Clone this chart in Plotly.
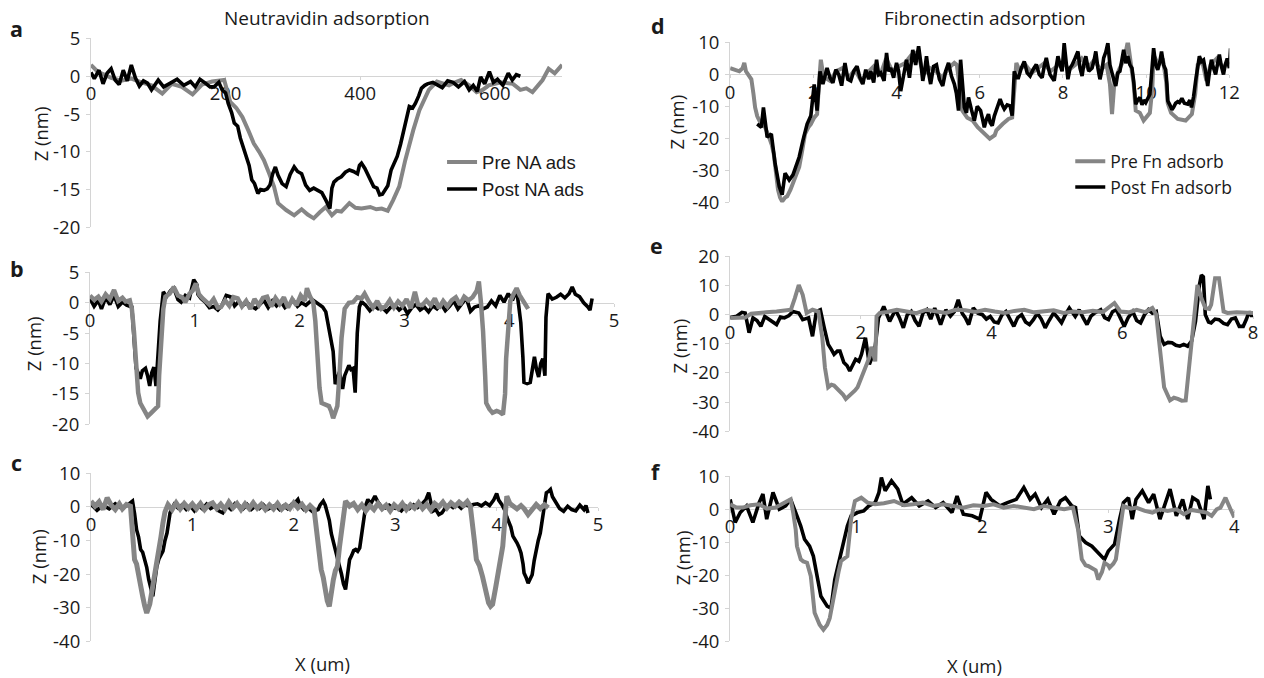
import plotly.graph_objects as go

# ---- profile data: (x, z) pairs, z in nm ----
# a: Neutravidin, single trench, x in nm
a_pre = [(0,1.5),(10,0.6),(18,0.3),(30,-0.2),(45,-0.6),(60,-0.3),(75,-0.8),(90,-1.2),(106,-2.3),(120,-1.0),
         (135,-1.4),(151,-2.4),(165,-1.1),(180,-0.7),(198,-0.5),(207,-3.4),(216,-4.2),(225,-5.4),(234,-7.2),
         (242,-8.9),(250,-10.0),(257,-11.1),(265,-12.9),(272,-14.6),(278,-16.8),(290,-17.7),(302,-18.4),
         (313,-17.6),(322,-18.3),(331,-18.8),(340,-18.0),(349,-17.3),(358,-18.4),(365,-17.8),(372,-17.9),
         (384,-16.8),(393,-17.4),(402,-17.5),(415,-17.3),(424,-17.6),(432,-17.5),(441,-17.8),(449,-16.4),
         (458,-14.6),(467,-11.1),(473,-9.0),(479,-7.1),(488,-4.5),(495,-3.0),(502,-1.8),(514,-0.7),(523,-1.0),
         (532,-1.2),(541,-0.8),(550,-0.5),(562,-1.2),(573,-2.1),(582,-1.8),(591,-1.2),(609,-0.8),(627,-1.0),
         (638,-1.8),(647,-1.6),(656,-2.1),(664,-1.2),(671,-0.5),(680,1.0),(689,0.4),(700,1.5)]
a_post = [(0,0.5),(5,-0.3),(12,0.8),(18,-1.0),(24,0.4),(30,1.0),(36,-0.5),(42,-1.1),(48,0.8),(54,-0.6),
          (60,1.5),(66,-0.2),(72,-1.3),(78,-0.6),(84,-0.9),(90,-1.8),(100,-0.5),(108,-1.4),(118,-0.9),
          (128,-0.4),(138,-1.2),(148,-0.7),(155,-1.4),(162,-0.4),(170,-0.9),(177,-1.4),(183,-1.4),(190,-0.8),
          (195,-1.8),(200,-2.2),(204,-3.6),(209,-4.8),(213,-6.2),(218,-6.6),(222,-8.2),(227,-9.5),(231,-10.6),
          (235,-11.8),(239,-13.7),(243,-14.2),(248,-15.5),(252,-15.0),(257,-15.1),(262,-14.9),(266,-14.4),
          (270,-12.9),(274,-12.0),(278,-13.1),(284,-14.2),(290,-14.6),(296,-13.0),(302,-12.0),(307,-12.6),
          (313,-12.9),(319,-14.4),(325,-15.1),(331,-14.8),(337,-15.1),(343,-15.4),(349,-16.4),(355,-17.5),
          (358,-14.8),(361,-14.0),(366,-13.6),(372,-13.3),(378,-12.7),(384,-12.4),(390,-12.6),(396,-12.9),
          (399,-11.8),(402,-11.5),(407,-12.2),(411,-12.9),(415,-13.7),(420,-14.6),(425,-14.8),(429,-15.7),
          (433,-15.6),(437,-15.1),(441,-14.5),(446,-12.4),(450,-11.5),(455,-10.6),(460,-9.0),(464,-7.6),
          (469,-5.6),(473,-4.0),(478,-4.2),(482,-3.6),(487,-2.6),(491,-1.6),(496,-1.2),(500,-1.0),(508,-0.8),
          (515,-1.2),(522,-1.5),(530,-0.6),(538,-0.8),(546,-1.4),(555,-0.7),(562,-1.8),(568,-1.2),(574,-2.0),
          (579,-0.1),(585,-1.0),(592,0.6),(598,-0.8),(604,-0.4),(612,-1.2),(620,0.4),(626,-0.5),(632,0.2),
          (638,0.0)]

# b: Neutravidin, three trenches, x in um
b_pre = [(0,1.2),(0.04,0.5),(0.08,1.0),(0.11,0.2),(0.15,1.4),(0.19,0.6),(0.23,2.1),(0.27,0.3),(0.31,0.8),
         (0.34,0.2),(0.38,0.4),(0.40,-1.0),(0.42,-4.7),(0.44,-10.5),(0.46,-14.8),(0.48,-16.5),(0.50,-17.2),
         (0.53,-18.0),(0.55,-18.7),(0.58,-18.2),(0.61,-17.6),(0.65,-17.0),(0.66,-12.0),(0.68,-4.7),(0.70,-1.0),
         (0.72,1.0),(0.76,1.5),(0.80,2.6),(0.84,1.2),(0.88,0.9),(0.91,0.1),(0.95,1.5),(0.98,2.0),(1.01,3.2),
         (1.04,1.4),(1.07,0.8),(1.10,0.4),(1.14,-0.3),(1.18,0.6),(1.22,-0.8),(1.25,-0.7),(1.29,0.4),(1.33,-0.5),
         (1.37,0.9),(1.41,0.7),(1.45,-0.6),(1.49,0.3),(1.53,-1.0),(1.57,0.6),(1.61,-0.4),(1.65,0.8),(1.69,1.0),
         (1.73,-0.6),(1.77,0.8),(1.81,-0.2),(1.85,0.9),(1.89,-0.8),(1.93,0.6),(1.97,-0.4),(2.01,1.2),(2.05,0.3),
         (2.07,2.4),(2.10,1.0),(2.13,0.1),(2.15,-3.0),(2.17,-9.2),(2.19,-14.0),(2.21,-16.5),(2.25,-16.8),
         (2.28,-17.0),(2.30,-17.8),(2.32,-19.0),(2.34,-18.0),(2.36,-17.0),(2.38,-12.0),(2.40,-5.8),(2.43,-1.0),
         (2.47,0.0),(2.51,0.1),(2.55,0.9),(2.59,0.7),(2.62,1.5),(2.66,0.2),(2.70,-0.8),(2.74,0.3),(2.78,-1.0),
         (2.82,-0.6),(2.86,0.4),(2.90,-0.8),(2.94,0.2),(2.98,-0.5),(3.02,0.6),(3.06,-0.9),(3.10,1.8),(3.13,-0.3),
         (3.17,-0.4),(3.21,0.4),(3.25,-0.4),(3.29,0.7),(3.33,-0.9),(3.37,0.3),(3.41,-0.6),(3.45,0.4),(3.49,0.9),
         (3.53,-0.3),(3.57,1.0),(3.61,0.4),(3.65,0.9),(3.69,2.0),(3.71,3.5),(3.73,0.0),(3.75,-4.7),(3.77,-12.0),
         (3.78,-16.5),(3.81,-17.5),(3.84,-18.1),(3.88,-17.8),(3.91,-18.0),(3.94,-18.4),(3.96,-15.0),(3.97,-9.2),
         (3.99,-3.0),(4.01,0.3),(4.04,1.4),(4.07,2.4),(4.10,1.2),(4.14,0.2),(4.18,-1.0)]
b_post = [(0,0.7),(0.04,-0.6),(0.08,0.4),(0.11,-1.0),(0.15,0.9),(0.19,-0.3),(0.23,1.2),(0.27,-0.6),(0.31,0.1),
          (0.35,-0.4),(0.40,-0.7),(0.42,-5.0),(0.44,-10.8),(0.46,-11.5),(0.48,-12.5),(0.50,-11.2),(0.53,-10.8),
          (0.55,-12.0),(0.57,-13.7),(0.59,-11.5),(0.61,-10.6),(0.63,-13.7),(0.65,-9.0),(0.67,-3.0),(0.70,1.8),
          (0.73,1.0),(0.77,2.0),(0.80,2.4),(0.84,0.5),(0.87,0.1),(0.91,1.2),(0.95,0.8),(0.99,3.8),(1.02,3.0),
          (1.03,1.4),(1.06,0.7),(1.10,0.1),(1.14,-0.8),(1.18,-0.6),(1.22,-1.2),(1.26,-0.4),(1.30,1.2),(1.34,1.0),
          (1.38,-0.5),(1.42,0.2),(1.46,-0.4),(1.50,0.0),(1.54,-0.6),(1.58,-1.0),(1.62,-0.3),(1.66,0.4),(1.70,-0.8),
          (1.74,0.3),(1.78,-0.5),(1.82,0.2),(1.86,-0.8),(1.90,-0.2),(1.94,0.4),(1.98,-0.6),(2.02,0.0),(2.06,-0.4),
          (2.10,0.2),(2.13,0.4),(2.18,-0.2),(2.22,-0.7),(2.25,-1.5),(2.28,-4.1),(2.30,-6.0),(2.32,-8.0),
          (2.34,-13.4),(2.36,-12.5),(2.38,-11.4),(2.40,-13.0),(2.41,-14.2),(2.43,-12.0),(2.45,-11.0),(2.47,-10.3),
          (2.49,-11.0),(2.51,-10.8),(2.53,-14.8),(2.55,-5.0),(2.57,-0.7),(2.59,0.2),(2.63,-0.4),(2.67,-1.3),
          (2.71,-0.5),(2.75,-1.0),(2.79,-0.8),(2.83,-1.5),(2.87,-0.7),(2.91,-0.4),(2.95,-1.2),(2.99,-0.6),
          (3.03,-1.8),(3.07,-0.8),(3.11,-0.3),(3.15,-1.2),(3.19,-0.7),(3.23,-1.5),(3.27,-0.5),(3.31,-1.0),
          (3.35,-0.2),(3.39,-1.3),(3.43,-0.6),(3.47,0.3),(3.51,-1.0),(3.55,-0.2),(3.59,0.8),(3.63,-1.4),
          (3.67,-0.7),(3.71,-0.5),(3.75,-1.0),(3.79,-0.7),(3.83,0.3),(3.87,-0.5),(3.91,1.2),(3.95,0.1),(3.99,1.5),
          (4.03,0.4),(4.07,2.1),(4.09,-0.5),(4.11,-3.3),(4.13,-9.0),(4.14,-13.1),(4.17,-13.3),(4.20,-13.1),
          (4.22,-11.0),(4.24,-8.9),(4.26,-11.0),(4.28,-12.2),(4.30,-10.0),(4.32,-9.2),(4.34,-12.0),(4.35,-2.4),
          (4.37,1.5),(4.41,0.6),(4.45,0.9),(4.49,1.4),(4.53,0.8),(4.57,1.5),(4.60,2.6),(4.63,1.4),(4.67,1.0),
          (4.71,0.0),(4.75,-0.7),(4.77,-1.2),(4.79,0.7)]

# c: Neutravidin, deeper trenches, x in um
c_pre = [(0,1.7),(0.04,0.2),(0.08,1.5),(0.12,-0.8),(0.16,2.7),(0.20,0.5),(0.24,-0.8),(0.28,0.9),(0.31,-0.6),
         (0.35,0.7),(0.39,0.2),(0.41,-6.0),(0.43,-15.7),(0.45,-17.0),(0.47,-20.7),(0.49,-23.0),(0.51,-26.6),
         (0.53,-29.5),(0.55,-31.6),(0.58,-29.0),(0.61,-23.7),(0.63,-20.0),(0.65,-17.7),(0.67,-14.0),(0.69,-9.0),
         (0.71,-4.8),(0.73,-1.5),(0.76,0.7),(0.80,-0.8),(0.84,1.2),(0.88,-0.6),(0.92,1.0),(0.96,-0.4),(1.00,0.9),
         (1.04,-0.6),(1.08,1.0),(1.12,-0.8),(1.16,0.6),(1.20,1.2),(1.24,-0.5),(1.28,0.8),(1.32,-0.7),(1.36,1.4),
         (1.40,-0.3),(1.44,1.0),(1.48,-0.8),(1.52,0.9),(1.56,-0.5),(1.60,1.2),(1.64,-0.4),(1.68,0.8),(1.72,-0.8),
         (1.76,0.6),(1.80,-0.6),(1.84,1.0),(1.88,-0.7),(1.92,0.5),(1.96,-0.5),(2.00,1.2),(2.04,-0.3),(2.08,0.8),
         (2.12,-0.9),(2.16,0.4),(2.20,-0.8),(2.22,-6.0),(2.24,-13.7),(2.27,-18.7),(2.29,-21.0),(2.31,-25.6),
         (2.33,-28.0),(2.35,-29.6),(2.37,-25.0),(2.39,-21.7),(2.41,-19.0),(2.43,-17.7),(2.45,-12.0),(2.47,-6.8),
         (2.49,-1.0),(2.51,1.7),(2.55,0.2),(2.59,1.0),(2.63,-0.8),(2.67,0.6),(2.71,-1.2),(2.75,0.4),(2.79,-0.8),
         (2.83,1.0),(2.87,-0.6),(2.91,0.5),(2.95,-1.2),(2.99,0.6),(3.03,-0.5),(3.07,1.0),(3.11,-0.8),(3.15,0.6),
         (3.19,-0.4),(3.23,1.2),(3.27,-0.5),(3.31,0.8),(3.35,-0.9),(3.39,1.0),(3.43,0.0),(3.47,1.4),(3.51,-0.3),
         (3.55,1.2),(3.59,0.2),(3.63,1.4),(3.67,0.4),(3.71,1.6),(3.74,0.2),(3.76,-3.8),(3.78,-10.0),(3.80,-15.7),
         (3.83,-17.5),(3.86,-20.7),(3.89,-25.0),(3.92,-28.6),(3.94,-29.6),(3.96,-29.0),(3.99,-24.0),(4.02,-18.7),
         (4.04,-16.0),(4.06,-11.7),(4.08,-4.0),(4.10,3.2),(4.13,1.0),(4.16,0.2),(4.20,-0.6),(4.24,0.4),
         (4.27,-0.5),(4.31,-2.3),(4.35,-0.8),(4.39,0.7),(4.43,-0.5),(4.47,0.6),(4.51,-0.3)]
c_post = [(0,0.8),(0.06,-1.0),(0.12,0.5),(0.18,-0.6),(0.24,0.9),(0.30,-0.4),(0.36,0.5),(0.41,1.7),(0.43,-2.0),
          (0.45,-6.8),(0.47,-9.0),(0.49,-12.7),(0.51,-13.5),(0.53,-15.7),(0.55,-18.0),(0.57,-21.7),(0.59,-24.0),
          (0.61,-26.6),(0.63,-22.0),(0.65,-17.7),(0.67,-15.5),(0.69,-14.0),(0.71,-13.2),(0.73,-10.0),(0.75,-7.8),
          (0.78,-1.8),(0.82,0.7),(0.86,-0.4),(0.90,0.6),(0.94,-0.8),(0.98,0.3),(1.02,-1.2),(1.06,0.4),(1.10,-0.6),
          (1.14,0.8),(1.18,-0.5),(1.22,0.2),(1.26,-1.2),(1.30,-1.8),(1.34,0.4),(1.38,-0.7),(1.42,1.0),(1.46,0.4),
          (1.50,-0.6),(1.54,0.7),(1.58,-0.8),(1.62,0.2),(1.66,-0.5),(1.70,0.6),(1.74,-0.7),(1.78,-0.2),(1.82,0.4),
          (1.86,-0.8),(1.90,0.3),(1.94,-0.6),(1.98,0.8),(2.02,1.5),(2.04,2.2),(2.06,0.6),(2.10,-0.8),(2.14,-0.3),
          (2.18,-1.2),(2.20,-1.8),(2.22,-1.0),(2.24,-0.8),(2.26,0.6),(2.29,1.7),(2.31,0.5),(2.33,-1.8),(2.35,-4.0),
          (2.37,-8.0),(2.39,-10.7),(2.41,-12.5),(2.43,-15.0),(2.45,-17.7),(2.47,-20.0),(2.49,-23.0),(2.51,-24.6),
          (2.53,-20.0),(2.55,-15.7),(2.57,-14.5),(2.59,-13.0),(2.61,-12.7),(2.63,-13.2),(2.65,-12.2),(2.67,-8.0),
          (2.69,-2.8),(2.71,0.5),(2.73,2.2),(2.76,1.0),(2.80,3.2),(2.83,1.4),(2.86,0.2),(2.90,-0.3),(2.94,0.5),
          (2.98,-0.4),(3.02,-0.3),(3.06,-1.2),(3.10,0.3),(3.14,-0.5),(3.18,0.6),(3.22,-0.2),(3.26,0.8),(3.30,2.0),
          (3.33,4.2),(3.35,1.2),(3.37,-1.3),(3.40,-0.8),(3.43,-2.3),(3.46,-1.8),(3.49,-0.5),(3.53,0.6),(3.57,-0.2),
          (3.61,0.7),(3.65,-0.4),(3.69,0.8),(3.73,0.2),(3.77,0.7),(3.81,0.9),(3.85,0.3),(3.89,1.2),(3.93,0.4),
          (3.97,2.0),(4.00,4.0),(4.02,2.0),(4.05,0.7),(4.08,-1.0),(4.10,-3.0),(4.12,-4.8),(4.14,-6.0),(4.16,-8.7),
          (4.18,-9.5),(4.20,-10.7),(4.22,-12.0),(4.24,-13.7),(4.26,-17.0),(4.27,-19.7),(4.29,-21.0),(4.31,-22.7),
          (4.33,-21.5),(4.35,-20.2),(4.37,-16.0),(4.39,-12.7),(4.41,-10.0),(4.43,-7.8),(4.46,-1.0),(4.49,4.2),
          (4.51,4.6),(4.53,5.2),(4.55,3.0),(4.59,0.7),(4.62,-0.5),(4.66,-1.3),(4.70,0.2),(4.74,-0.8),(4.78,-1.2),
          (4.82,0.5),(4.86,-0.8),(4.88,0.4),(4.90,-1.8)]

# d: Fibronectin, wide scan, x in um
d_pre = [(0.00,2.0),(0.10,1.5),(0.22,1.0),(0.30,2.0),(0.34,3.6),(0.38,1.0),(0.45,-0.5),(0.51,-1.5),(0.56,-6.0),
         (0.60,-10.3),(0.65,-13.0),(0.70,-14.4),(0.77,-15.5),(0.84,-16.5),(0.92,-19.0),(1.00,-22.0),(1.05,-25.0),
         (1.10,-31.0),(1.15,-36.0),(1.20,-38.5),(1.25,-39.7),(1.32,-38.5),(1.37,-38.1),(1.45,-36.0),(1.51,-34.0),
         (1.58,-31.5),(1.66,-28.9),(1.73,-24.0),(1.80,-18.6),(1.88,-16.5),(1.94,-15.5),(2.02,-13.5),(2.09,-12.4),
         (2.14,-2.0),(2.18,4.6),(2.23,0.5),(2.28,-1.0),(2.40,-2.0),(2.55,1.0),(2.70,2.0),(2.85,-1.0),(3.00,1.5),
         (3.15,-2.0),(3.30,0.5),(3.45,2.5),(3.60,-0.5),(3.75,5.0),(3.90,1.0),(4.05,2.5),(4.20,3.5),(4.35,6.0),
         (4.50,7.0),(4.65,0.0),(4.80,2.0),(4.95,1.0),(5.10,-1.0),(5.25,2.0),(5.39,3.6),(5.45,3.0),(5.52,-4.0),
         (5.58,-11.3),(5.70,-13.5),(5.83,-14.4),(5.95,-16.5),(6.12,-18.6),(6.24,-20.1),(6.36,-19.0),(6.40,-17.5),
         (6.55,-15.5),(6.69,-13.9),(6.78,-13.5),(6.84,-5.0),(6.88,3.6),(6.95,1.5),(7.10,3.0),(7.25,0.5),(7.40,2.0),
         (7.55,3.5),(7.70,1.0),(7.85,2.5),(8.00,4.0),(8.15,1.5),(8.30,3.0),(8.45,5.0),(8.60,2.0),(8.75,4.5),
         (8.90,1.5),(9.05,3.0),(9.13,-3.0),(9.18,-12.4),(9.24,-2.0),(9.35,1.5),(9.48,5.0),(9.56,10.3),(9.62,4.0),
         (9.70,-3.0),(9.75,-11.3),(9.85,-12.0),(9.94,-14.4),(10.09,-12.0),(10.15,-4.0),(10.18,6.0),(10.30,3.0),
         (10.40,5.0),(10.48,-2.0),(10.52,-9.0),(10.60,-12.0),(10.76,-13.9),(10.95,-14.4),(11.10,-12.4),
         (11.18,-6.0),(11.24,3.0),(11.35,4.0),(11.45,-2.0),(11.55,3.0),(11.70,5.0),(11.85,2.0),(12.00,4.0)]
d_post = [(0.65,-15.5),(0.75,-16.5),(0.80,-10.3),(0.89,-19.6),(0.99,-18.6),(1.08,-27.8),(1.18,-35.0),
          (1.25,-37.6),(1.32,-30.9),(1.42,-33.0),(1.51,-31.4),(1.66,-25.8),(1.75,-20.6),(1.85,-15.5),(1.94,-12.9),
          (2.02,-3.1),(2.09,-11.3),(2.16,1.0),(2.23,-3.0),(2.33,2.0),(2.40,-1.0),(2.47,-2.6),(2.54,1.5),(2.61,0.0),
          (2.68,-3.5),(2.76,3.6),(2.83,-1.5),(2.90,-2.0),(2.97,1.0),(3.05,2.6),(3.12,-1.0),(3.19,-3.0),(3.26,1.5),
          (3.33,-1.5),(3.38,1.0),(3.45,-2.5),(3.52,4.6),(3.57,0.0),(3.62,0.5),(3.70,-2.0),(3.76,6.7),(3.81,1.0),
          (3.86,2.0),(3.93,-1.0),(4.00,3.6),(4.05,1.0),(4.10,-5.2),(4.17,0.5),(4.24,4.6),(4.31,-1.0),(4.39,7.7),
          (4.46,3.0),(4.53,8.8),(4.58,4.0),(4.63,-2.0),(4.68,1.5),(4.72,5.7),(4.77,0.5),(4.82,-3.0),(4.89,2.5),
          (4.96,3.0),(5.03,-1.5),(5.11,-3.6),(5.18,1.0),(5.25,3.6),(5.32,-0.5),(5.39,-3.0),(5.44,-6.0),(5.49,-11.3),
          (5.54,4.6),(5.58,-2.0),(5.63,-10.3),(5.68,-12.0),(5.73,-7.2),(5.80,-11.0),(5.87,-14.4),(5.94,-10.0),
          (6.02,-11.3),(6.06,-13.5),(6.11,-16.5),(6.16,-14.0),(6.21,-12.4),(6.25,-15.0),(6.30,-16.0),(6.35,-13.0),
          (6.40,-11.3),(6.45,-9.5),(6.49,-7.7),(6.54,-9.5),(6.59,-10.8),(6.66,-9.5),(6.73,-9.8),(6.78,-12.9),
          (6.83,1.0),(6.88,-1.0),(6.93,-1.0),(7.00,2.0),(7.07,4.1),(7.14,0.5),(7.21,-0.5),(7.28,1.5),(7.36,3.1),
          (7.43,0.0),(7.50,-1.0),(7.55,2.5),(7.60,5.2),(7.65,2.0),(7.69,0.0),(7.74,-1.0),(7.79,-2.0),(7.84,2.5),
          (7.88,5.7),(7.93,3.0),(7.98,1.0),(8.03,9.8),(8.08,3.0),(8.12,-1.5),(8.17,2.0),(8.22,3.0),(8.29,5.0),
          (8.36,7.2),(8.41,2.0),(8.46,-0.5),(8.50,3.0),(8.55,5.7),(8.62,1.0),(8.70,2.0),(8.75,4.5),(8.79,7.2),
          (8.84,2.0),(8.89,-1.5),(8.94,1.5),(8.98,5.2),(9.03,7.0),(9.08,9.8),(9.13,3.0),(9.18,0.0),(9.23,-2.0),
          (9.27,-3.6),(9.32,0.5),(9.37,1.0),(9.42,4.0),(9.46,7.7),(9.51,3.5),(9.56,5.7),(9.61,3.0),(9.66,2.0),
          (9.70,-2.0),(9.75,-9.3),(9.80,-8.0),(9.85,-7.2),(9.90,-9.5),(9.94,-8.0),(9.99,-8.8),(10.04,-7.5),
          (10.09,-6.2),(10.13,0.0),(10.18,8.2),(10.23,3.0),(10.28,1.5),(10.33,4.0),(10.37,7.2),(10.42,3.0),
          (10.47,1.5),(10.50,-3.0),(10.52,-8.2),(10.57,-9.5),(10.62,-11.0),(10.66,-10.3),(10.71,-9.0),(10.76,-8.5),
          (10.80,-8.8),(10.86,-7.5),(10.92,-9.0),(11.00,-9.3),(11.05,-8.0),(11.09,-10.3),(11.14,-7.0),(11.19,-2.0),
          (11.24,2.5),(11.28,5.7),(11.33,4.0),(11.38,4.5),(11.43,1.0),(11.48,-3.6),(11.52,0.5),(11.57,4.6),
          (11.62,2.0),(11.67,0.0),(11.72,3.5),(11.76,6.2),(11.81,2.5),(11.86,0.0),(11.90,3.0),(11.95,5.0),
          (12.00,2.0),(12.03,8.2)]

# e: Fibronectin, two trenches, x in um
e_pre = [(0.00,-1.1),(0.12,-1.1),(0.23,-1.0),(0.32,0.3),(0.41,0.6),(0.55,0.8),(0.71,1.1),(0.85,1.5),(0.93,1.7),
         (0.99,5.7),(1.05,10.2),(1.11,6.8),(1.17,0.6),(1.26,1.7),(1.35,1.1),(1.41,-7.9),(1.45,-18.1),(1.50,-24.9),
         (1.55,-24.0),(1.59,-24.3),(1.64,-25.5),(1.68,-26.0),(1.73,-27.5),(1.77,-28.9),(1.82,-28.0),(1.86,-27.2),
         (1.91,-26.0),(1.95,-24.9),(2.01,-21.5),(2.07,-18.1),(2.13,-14.7),(2.16,-11.0),(2.19,-13.0),(2.22,-16.0),
         (2.24,-0.6),(2.29,0.6),(2.40,0.9),(2.55,1.7),(2.70,1.1),(2.85,0.5),(3.00,1.7),(3.15,1.1),(3.30,0.6),
         (3.45,1.7),(3.60,1.5),(3.75,0.9),(3.90,1.7),(4.05,1.1),(4.20,0.6),(4.35,1.3),(4.50,1.7),(4.65,0.8),
         (4.80,1.1),(4.95,1.5),(5.10,0.6),(5.25,1.1),(5.40,0.8),(5.55,1.3),(5.70,0.9),(5.88,4.0),(5.97,1.1),
         (6.10,0.8),(6.22,1.7),(6.35,0.9),(6.46,2.3),(6.52,0.0),(6.58,-12.5),(6.64,-24.9),(6.73,-29.4),
         (6.79,-28.5),(6.85,-28.9),(6.91,-29.5),(6.97,-29.4),(7.03,-15.9),(7.09,-2.3),(7.15,10.2),(7.21,5.7),
         (7.27,2.3),(7.33,2.0),(7.36,3.4),(7.42,12.5),(7.48,12.5),(7.55,1.1),(7.61,0.6),(7.75,0.8),(7.90,0.5),
         (8.00,0.6)]
e_post = [(0.00,-1.0),(0.10,-0.5),(0.18,0.8),(0.23,0.6),(0.29,-6.2),(0.35,-1.1),(0.41,-2.0),(0.47,-4.0),
          (0.53,-0.6),(0.59,-1.5),(0.71,-3.4),(0.77,-0.8),(0.83,-1.1),(0.90,-0.3),(0.96,1.1),(1.05,0.6),(1.11,-1.7),
          (1.20,-1.1),(1.26,-7.4),(1.32,1.1),(1.38,1.7),(1.44,-4.5),(1.50,-10.2),(1.55,-12.0),(1.59,-13.6),
          (1.64,-12.5),(1.68,-12.5),(1.74,-16.4),(1.79,-17.5),(1.83,-19.3),(1.88,-17.0),(1.92,-15.3),(1.97,-16.0),
          (2.01,-13.6),(2.07,-7.9),(2.13,-17.0),(2.19,-13.6),(2.22,-10.8),(2.27,-1.1),(2.35,2.8),(2.44,-2.3),
          (2.53,1.7),(2.59,-1.0),(2.65,-4.5),(2.71,0.0),(2.77,1.1),(2.83,-2.0),(2.89,-4.0),(2.95,0.5),(3.01,1.7),
          (3.07,-1.5),(3.13,2.3),(3.22,-3.4),(3.30,1.7),(3.37,-0.5),(3.43,1.1),(3.49,5.1),(3.55,0.5),(3.60,-1.1),
          (3.65,-3.4),(3.72,2.3),(3.79,0.5),(3.86,0.0),(3.92,-1.5),(3.98,-0.6),(4.04,-2.5),(4.10,-2.8),(4.16,0.0),
          (4.22,1.1),(4.28,-1.5),(4.34,-4.0),(4.40,-1.0),(4.46,0.0),(4.52,-2.5),(4.58,-3.4),(4.64,-1.7),(4.70,0.5),
          (4.76,-1.5),(4.82,-4.5),(4.88,-2.0),(4.95,0.6),(5.01,-1.0),(5.07,-2.8),(5.13,0.0),(5.19,2.3),(5.28,-0.6),
          (5.34,1.7),(5.40,-1.0),(5.46,-3.4),(5.52,-0.5),(5.58,0.6),(5.67,1.7),(5.73,-1.0),(5.79,-1.7),(5.85,1.0),
          (5.91,1.7),(5.97,-1.5),(6.03,-4.0),(6.09,-1.0),(6.16,1.1),(6.22,-2.0),(6.28,-2.8),(6.34,0.0),(6.40,1.7),
          (6.46,0.5),(6.52,1.1),(6.58,-7.4),(6.64,-10.2),(6.70,-9.5),(6.76,-9.6),(6.82,-10.5),(6.88,-10.8),
          (6.94,-10.2),(7.00,-10.8),(7.06,-9.1),(7.12,-2.3),(7.18,10.2),(7.21,13.6),(7.24,13.0),(7.27,0.0),
          (7.32,-2.5),(7.36,-2.8),(7.42,-1.5),(7.48,-1.7),(7.55,-3.0),(7.61,-3.4),(7.67,-1.5),(7.73,-1.1),
          (7.79,-4.0),(7.85,-4.0),(7.90,-1.5),(7.94,1.1),(7.98,-0.6),(8.00,0.5)]

# f: Fibronectin, short scan, x in um
f_pre = [(0.00,1.5),(0.05,0.5),(0.10,0.5),(0.16,1.2),(0.23,1.5),(0.29,0.2),(0.36,0.5),(0.41,1.5),(0.45,2.5),
         (0.48,3.0),(0.50,-1.0),(0.52,-6.1),(0.53,-11.2),(0.56,-15.2),(0.58,-15.8),(0.61,-16.2),(0.64,-20.3),
         (0.67,-31.4),(0.71,-35.0),(0.74,-36.5),(0.77,-35.0),(0.79,-33.0),(0.81,-29.0),(0.83,-24.3),(0.86,-19.0),
         (0.88,-15.7),(0.91,-15.0),(0.93,-14.2),(0.96,-3.0),(0.99,2.5),(1.04,3.5),(1.09,2.0),(1.15,1.5),(1.22,1.8),
         (1.30,2.5),(1.38,1.2),(1.45,1.5),(1.53,2.0),(1.61,1.0),(1.69,1.5),(1.77,1.0),(1.85,0.5),(1.93,1.2),
         (2.01,1.0),(2.09,1.5),(2.17,0.5),(2.25,1.0),(2.33,0.5),(2.41,0.0),(2.49,1.0),(2.57,0.5),(2.65,0.0),
         (2.72,0.5),(2.76,-6.1),(2.79,-15.2),(2.82,-17.0),(2.84,-17.2),(2.87,-17.7),(2.90,-18.5),(2.92,-21.3),
         (2.95,-19.0),(2.97,-16.2),(3.00,-17.0),(3.01,-17.7),(3.04,-16.5),(3.06,-15.2),(3.09,-6.1),(3.12,1.0),
         (3.18,0.2),(3.22,0.5),(3.29,-0.5),(3.35,-1.0),(3.41,0.0),(3.47,-0.5),(3.54,0.0),(3.60,-1.5),(3.66,-0.2),
         (3.73,-0.5),(3.78,-1.0),(3.82,-2.0),(3.86,0.0),(3.89,0.5),(3.93,3.5),(3.97,0.0),(4.00,-2.5)]
f_post = [(0.00,3.0),(0.04,-4.0),(0.08,-1.0),(0.13,1.0),(0.18,-4.0),(0.23,2.0),(0.26,4.6),(0.29,-3.0),(0.34,5.1),
          (0.39,0.0),(0.44,1.0),(0.48,3.0),(0.53,-2.0),(0.56,-5.1),(0.59,-9.1),(0.63,-11.2),(0.66,-14.2),
          (0.69,-20.3),(0.72,-26.4),(0.77,-29.4),(0.80,-30.0),(0.83,-21.3),(0.87,-15.2),(0.90,-10.1),(0.93,-5.1),
          (0.96,-2.0),(1.01,-1.0),(1.06,-0.5),(1.10,1.0),(1.15,2.0),(1.18,5.0),(1.20,9.6),(1.23,5.6),(1.28,8.6),
          (1.33,6.1),(1.37,1.5),(1.44,3.5),(1.50,1.0),(1.57,2.5),(1.63,0.5),(1.69,2.0),(1.76,-1.0),(1.80,4.0),
          (1.85,-1.5),(1.92,-2.0),(1.98,-3.0),(2.03,5.1),(2.07,3.0),(2.14,1.0),(2.20,2.0),(2.27,3.0),(2.33,6.6),
          (2.38,3.0),(2.42,4.6),(2.47,0.5),(2.52,3.0),(2.57,-1.5),(2.62,2.5),(2.66,3.5),(2.71,1.0),(2.74,0.5),
          (2.77,-8.1),(2.82,-10.1),(2.87,-11.2),(2.92,-13.2),(2.97,-15.2),(3.00,-12.7),(3.05,-10.6),(3.09,-3.0),
          (3.12,2.0),(3.16,3.5),(3.19,-3.0),(3.22,3.0),(3.27,5.6),(3.32,2.0),(3.36,4.6),(3.41,-3.0),(3.46,3.0),
          (3.49,6.1),(3.54,-2.0),(3.59,3.0),(3.63,-3.0),(3.67,3.5),(3.71,2.5),(3.76,-3.0),(3.79,7.1),(3.81,3.0)]

# ---- axis ticks ----
a_xticks = [0, 200, 400, 600]
b_xticks = [0, 1, 2, 3, 4, 5]
c_xticks = [0, 1, 2, 3, 4, 5]
d_xticks = [0, 2, 4, 6, 8, 10, 12]
e_xticks = [0, 2, 4, 6, 8]
f_xticks = [0, 1, 2, 3, 4]
yticks_5 = [5, 0, -5, -10, -15, -20]
yticks_10 = [10, 0, -10, -20, -30, -40]
yticks_20 = [20, 10, 0, -10, -20, -30, -40]

W, H = 1264, 678
# the page is shown slightly reduced with a small top/left inset; place items accordingly
SX, OX = 0.987, 5.1
SY, OY = 0.9636, 14.5
GRAY = "#858585"
BLACK = "#000000"
AXIS = "#d4d4d4"
TXT = "#1a1a1a"
FONT = "Open Sans"


def fx(px):
    return min(max((px - OX) / SX / W, 0.0), 1.0)


def fy(py):
    return min(max(1 - (py - OY) / SY / H, 0.0), 1.0)


def tick_text(vals):
    # plain hyphen-minus for negative labels
    return [str(v) for v in vals]


# plotting box per panel in screen pixels: (left, right, top, bottom)
panels = [
    dict(pre=a_pre, post=a_post, xr=[0, 700], xt=a_xticks, yr=[-20, 5], yt=yticks_5,
         box=(91, 562, 39, 228), gray_on_top=False, gw=4, bw=3.6, legend="legend",
         names=("Pre NA ads", "Post NA ads")),
    dict(pre=b_pre, post=b_post, xr=[0, 5], xt=b_xticks, yr=[-20, 5], yt=yticks_5,
         box=(90, 614, 273, 425), gray_on_top=True, gw=4.5, bw=3.6, legend=None,
         names=("Pre NA ads", "Post NA ads")),
    dict(pre=c_pre, post=c_post, xr=[0, 5], xt=c_xticks, yr=[-40, 10], yt=yticks_10,
         box=(91, 598, 474, 642), gray_on_top=True, gw=5, bw=3.6, legend=None,
         names=("Pre NA ads", "Post NA ads")),
    dict(pre=d_pre, post=d_post, xr=[0, 12], xt=d_xticks, yr=[-40, 10], yt=yticks_10,
         box=(730, 1229, 43, 203), gray_on_top=False, gw=4, bw=3.6, legend="legend2",
         names=("Pre Fn adsorb", "Post Fn adsorb")),
    dict(pre=e_pre, post=e_post, xr=[0, 8], xt=e_xticks, yr=[-40, 20], yt=yticks_20,
         box=(730, 1255, 257, 432), gray_on_top=True, gw=4, bw=3.6, legend=None,
         names=("Pre Fn adsorb", "Post Fn adsorb")),
    dict(pre=f_pre, post=f_post, xr=[0, 4], xt=f_xticks, yr=[-40, 10], yt=yticks_10,
         box=(730, 1234, 477, 642), gray_on_top=True, gw=4, bw=3.6, legend=None,
         names=("Pre Fn adsorb", "Post Fn adsorb")),
]

fig = go.Figure()
layout = {}

for i, p in enumerate(panels, start=1):
    xa = "x" if i == 1 else f"x{i}"
    ya = "y" if i == 1 else f"y{i}"
    l, r, t, b = p["box"]
    xd = [fx(l), fx(r)]
    yd = [fy(b), fy(t)]
    y0, y1 = p["yr"]
    zero_pos = yd[0] + (0 - y0) / (y1 - y0) * (yd[1] - yd[0])

    pre_trace = go.Scatter(
        x=[v[0] for v in p["pre"]], y=[v[1] for v in p["pre"]], mode="lines",
        line=dict(color=GRAY, width=p["gw"]), name=p["names"][0], xaxis=xa, yaxis=ya,
        showlegend=p["legend"] is not None, legend=p["legend"] or "legend", hoverinfo="skip")
    post_trace = go.Scatter(
        x=[v[0] for v in p["post"]], y=[v[1] for v in p["post"]], mode="lines",
        line=dict(color=BLACK, width=p["bw"]), name=p["names"][1], xaxis=xa, yaxis=ya,
        showlegend=p["legend"] is not None, legend=p["legend"] or "legend", hoverinfo="skip")
    if p["gray_on_top"]:
        fig.add_trace(post_trace)
        fig.add_trace(pre_trace)
    else:
        fig.add_trace(pre_trace)
        fig.add_trace(post_trace)

    xkey = "xaxis" if i == 1 else f"xaxis{i}"
    ykey = "yaxis" if i == 1 else f"yaxis{i}"
    layout[xkey] = dict(
        domain=xd, range=p["xr"], anchor="free", position=zero_pos,
        tickmode="array", tickvals=p["xt"], ticktext=tick_text(p["xt"]),
        showline=True, linecolor=AXIS, linewidth=1, ticks="outside", ticklen=3, tickcolor=AXIS,
        showgrid=False, zeroline=False, layer="below traces", ticklabelstandoff=-2,
        tickfont=dict(family=FONT, size=18.5, color=TXT), fixedrange=True)
    layout[ykey] = dict(
        domain=yd, range=p["yr"], anchor=xa,
        tickmode="array", tickvals=p["yt"], ticktext=tick_text(p["yt"]),
        showline=True, linecolor=AXIS, linewidth=1, ticks="outside", ticklen=4, tickcolor=AXIS,
        showgrid=False, zeroline=False, layer="below traces", ticklabelstandoff=2,
        tickfont=dict(family=FONT, size=18.5, color=TXT), fixedrange=True)

layout.update(dict(
    width=W, height=H, margin=dict(l=0, r=0, t=0, b=0),
    paper_bgcolor="white", plot_bgcolor="rgba(0,0,0,0)",
    legend=dict(x=fx(442), y=fy(144), xanchor="left", yanchor="top", bgcolor="rgba(0,0,0,0)",
                font=dict(family="Liberation Sans", size=18.5, color=TXT), itemwidth=30, borderwidth=0),
    legend2=dict(x=fx(1070), y=fy(144), xanchor="left", yanchor="top", bgcolor="rgba(0,0,0,0)",
                 font=dict(family=FONT, size=17.5, color=TXT), itemwidth=30, borderwidth=0),
))
fig.update_layout(**layout)


# text: column titles, panel letters, axis titles
def ann(px, py, text, size=18.5, bold=False, angle=0):
    fig.add_annotation(
        x=fx(px), y=fy(py), xref="paper", yref="paper", text=f"<b>{text}</b>" if bold else text,
        showarrow=False, textangle=angle, xanchor="center", yanchor="middle",
        font=dict(family=FONT, size=size, color=TXT))


ann(327, 19, "Neutravidin adsorption", size=19)
ann(985, 19, "Fibronectin adsorption", size=19)

for letter, px, py in [("a", 17, 29), ("b", 17, 269), ("c", 17, 463),
                       ("d", 658, 26), ("e", 656, 246), ("f", 656, 472)]:
    ann(px, py, letter, size=21.5, bold=True)

for px, py in [(41, 134), (33, 344), (38, 557), (676, 123), (679, 347), (682, 559)]:
    ann(px, py, "Z (nm)", angle=-90)

ann(322, 664, "X (um)")
ann(974, 666, "X (um)")

fig.write_html("out.html")
